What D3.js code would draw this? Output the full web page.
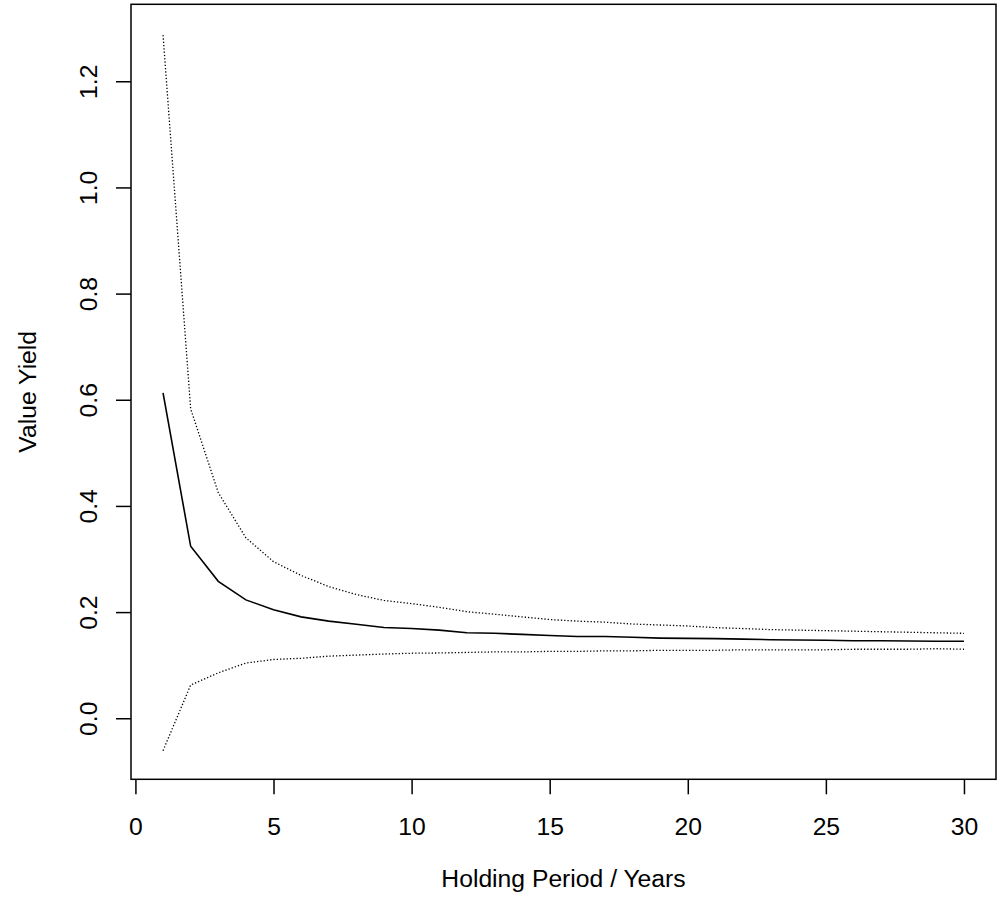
<!DOCTYPE html>
<html>
<head>
<meta charset="utf-8">
<script src="https://cdn.jsdelivr.net/npm/d3@7"></script>
<style>
html, body { margin: 0; padding: 0; background: #fff; }
svg { display: block; }
text { font-family: "Liberation Sans", Arial, Helvetica, sans-serif; fill: #000; }
</style>
</head>
<body>
<svg id="chart" width="1001" height="903"></svg>
<script>
const years = d3.range(1, 31);
const meanYield = [0.613, 0.324, 0.258, 0.223, 0.2045, 0.191, 0.183, 0.177, 0.171, 0.169,
  0.166, 0.161, 0.160, 0.158, 0.156, 0.154, 0.154, 0.1525, 0.151, 0.1505,
  0.150, 0.149, 0.148, 0.1475, 0.147, 0.146, 0.146, 0.1455, 0.145, 0.145];
const upperYield = [1.287, 0.583, 0.425, 0.340, 0.295, 0.269, 0.248, 0.233, 0.222, 0.216,
  0.209, 0.2007, 0.196, 0.191, 0.186, 0.183, 0.181, 0.1775, 0.1757, 0.1738,
  0.1707, 0.169, 0.167, 0.166, 0.165, 0.164, 0.163, 0.162, 0.161, 0.160];
const lowerYield = [-0.061, 0.0625, 0.0856, 0.104, 0.1107, 0.113, 0.117, 0.119, 0.121, 0.1225,
  0.123, 0.124, 0.125, 0.125, 0.126, 0.126, 0.127, 0.127, 0.128, 0.128,
  0.128, 0.129, 0.129, 0.129, 0.129, 0.130, 0.130, 0.130, 0.131, 0.130];
const xTicks = [0, 5, 10, 15, 20, 25, 30];
const yTicks = [0.0, 0.2, 0.4, 0.6, 0.8, 1.0, 1.2];
const xTitle = "Holding Period / Years";
const yTitle = "Value Yield";

const svg = d3.select("#chart");
const L = 131, R = 996, T = 4.3, B = 779.3;
const x = d3.scaleLinear().domain([-0.16, 31.16]).range([L, R]);
const y = d3.scaleLinear().domain([-0.115, 1.345]).range([B, T]);
const fs = 24.7;

// box
svg.append("rect").attr("x", L).attr("y", T).attr("width", R - L).attr("height", B - T)
  .attr("fill", "none").attr("stroke", "#000").attr("stroke-width", 1.5);

// x axis
const xa = svg.append("g").attr("transform", `translate(0,${B})`)
  .call(d3.axisBottom(x).tickValues(xTicks).tickSize(15).tickPadding(0).tickFormat(d3.format("d")));
xa.select(".domain").remove();
xa.selectAll(".tick line").attr("stroke", "#000").attr("stroke-width", 1.5);
xa.selectAll(".tick text").attr("y", 56).attr("dy", null).attr("font-size", fs)
  .attr("font-family", "Liberation Sans, Arial, sans-serif");

// y axis
const ya = svg.append("g").attr("transform", `translate(${L},0)`)
  .call(d3.axisLeft(y).tickValues(yTicks).tickSize(15).tickFormat(d3.format(".1f")));
ya.select(".domain").remove();
ya.selectAll(".tick line").attr("stroke", "#000").attr("stroke-width", 1.5);
ya.selectAll(".tick text").attr("x", null).attr("dy", null)
  .attr("text-anchor", "middle").attr("font-size", fs)
  .attr("font-family", "Liberation Sans, Arial, sans-serif")
  .attr("transform", `translate(${96.5 - L},0) rotate(-90)`);

// titles
svg.append("text").attr("x", (L + R) / 2).attr("y", 887).attr("text-anchor", "middle")
  .attr("font-size", fs).text(xTitle);
svg.append("text").attr("text-anchor", "middle").attr("font-size", fs)
  .attr("transform", `translate(35.5,${(T + B) / 2}) rotate(-90)`).text(yTitle);

const line = d3.line().x((d, i) => x(years[i])).y(d => y(d));
svg.append("path").datum(upperYield).attr("d", line).attr("fill", "none")
  .attr("stroke", "#000").attr("stroke-width", 1.3).attr("stroke-dasharray", "1.3,2");
svg.append("path").datum(lowerYield).attr("d", line).attr("fill", "none")
  .attr("stroke", "#000").attr("stroke-width", 1.3).attr("stroke-dasharray", "1.3,2");
svg.append("path").datum(meanYield).attr("d", line).attr("fill", "none")
  .attr("stroke", "#000").attr("stroke-width", 1.6);
</script>
</body>
</html>
